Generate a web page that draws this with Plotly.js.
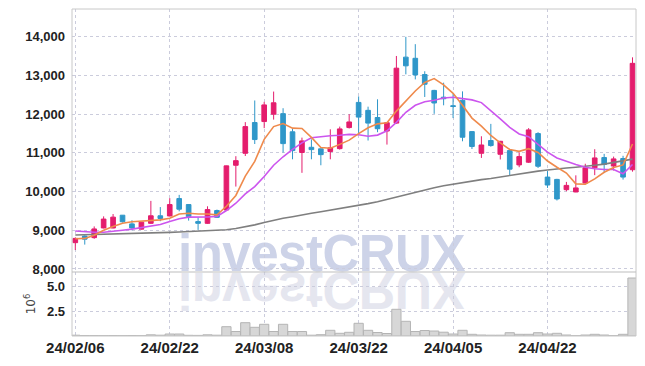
<!DOCTYPE html>
<html><head><meta charset="utf-8">
<script src="https://cdn.plot.ly/plotly-3.0.1.min.js"></script>
<style>
html,body{margin:0;padding:0;background:#fff;}
#wrap{position:relative;width:645px;height:366px;overflow:hidden;background:#fff;}
.wm{position:absolute;left:178px;top:229px;font-family:'Liberation Sans',Arial,sans-serif;font-weight:bold;font-size:51px;line-height:50px;white-space:nowrap;letter-spacing:-0.5px;}
#wm1{color:#cdd3e8;}
#wm2{color:#e5e6ef;transform-origin:0 43px;transform:scaleY(-1);}
#chart{position:absolute;left:0;top:0;width:645px;height:366px;}
</style></head>
<body><div id="wrap"><div class="wm" id="wm1">investCRUX</div><div class="wm" id="wm2">investCRUX</div><div id="chart"></div></div>
<script>
const dates = ['24/02/06','24/02/07','24/02/08','24/02/13','24/02/14','24/02/15','24/02/16','24/02/19','24/02/20','24/02/21',
'24/02/22','24/02/23','24/02/26','24/02/27','24/02/28','24/02/29','24/03/04','24/03/05','24/03/06','24/03/07',
'24/03/08','24/03/11','24/03/12','24/03/13','24/03/14','24/03/15','24/03/18','24/03/19','24/03/20','24/03/21',
'24/03/22','24/03/25','24/03/26','24/03/27','24/03/28','24/03/29','24/04/01','24/04/02','24/04/03','24/04/04',
'24/04/05','24/04/08','24/04/09','24/04/11','24/04/12','24/04/15','24/04/16','24/04/17','24/04/18','24/04/19',
'24/04/22','24/04/23','24/04/24','24/04/25','24/04/26','24/04/29','24/04/30','24/05/02','24/05/03','24/05/07'];
const open  = [8680,8850,8810,9060,9060,9390,9165,9030,9180,9375, 9370,9820,9665,9225,9180,9510,9525,10680,10990,11785,
11810,12000,12015,11545,11010,11145,11105,11035,11110,11655, 12305,12100,11915,11565,11770,13475,13445,13025,12615,12440,
12220,12360,11550,10990,11320,10965,11060,10690,10760,11500, 10375,10315,10050,9990,10220,10615,10880,10660,10855,10565];
const high  = [8810,8870,9100,9360,9420,9395,9260,9215,9760,9600, 9830,9915,9670,9335,9620,9535,10670,10915,11795,12355,
12320,12585,12155,11630,11395,11350,11110,11610,11680,12000, 12460,12195,12385,11790,13505,14000,13810,13110,12630,12815,
12520,12590,11560,11430,11750,11310,11070,11015,11640,11535, 10530,10330,10250,10420,10720,11095,10975,10905,10925,13470];
const low   = [8490,8630,8780,9050,9050,9200,9000,9020,9170,9235, 9360,9490,9250,9010,9165,9320,9510,10130,10920,11230,
11640,11860,11010,10835,10485,10835,10680,10835,11085,11630, 11495,11320,11535,11215,11750,13030,12900,12445,12010,12230,
11900,11300,11100,10870,11160,10830,10430,10630,10740,10610, 10095,9770,10010,9985,10205,10425,10480,10545,10310,10515];
const close = [8790,8770,9035,9290,9340,9220,9060,9210,9375,9305, 9665,9545,9355,9180,9535,9335,10665,10800,11680,11345,
12240,12295,11240,11060,11310,11085,10955,11130,11620,11800, 11925,11770,11625,11780,13190,13250,13015,12775,12290,12400,
12200,11405,11165,11205,11190,11300,10580,10905,11595,10655, 10170,9810,10160,10095,10615,10870,10700,10845,10375,13315];
const volume = [0.08,0.05,0.05,0.04,0.05,0.04,0.05,0.04,0.12,0.08, 0.2,0.2,0.07,0.06,0.12,0.08,0.93,0.45,1.33,0.87,
1.17,0.45,1.17,0.45,0.45,0.08,0.13,0.57,0.27,0.37, 1.27,0.57,0.35,0.25,2.67,1.47,0.45,0.55,0.5,0.38,
0.2,0.57,0.17,0.1,0.08,0.08,0.33,0.17,0.17,0.33, 0.2,0.27,0.1,0.03,0.1,0.17,0.1,0.04,0.17,5.8];
const ma5 = [8780,8790,8870,9000,9100,9180,9220,9240,9250,9270, 9310,9420,9440,9420,9420,9400,9620,9900,10400,10780,
11350,11680,11760,11640,11630,11400,11140,11120,11220,11330, 11500,11650,11750,11780,12080,12350,12600,12820,12920,12760,
12540,12230,11900,11690,11450,11260,11090,11040,11110,11010, 10790,10630,10480,10200,10190,10330,10500,10620,10690,11230];
const ma10 = [8980,8960,8950,8950,8970,9000,9030,9070,9110,9150, 9230,9300,9340,9335,9345,9360,9510,9700,9940,10130,
10390,10680,10900,11090,11260,11390,11420,11445,11455,11480, 11470,11430,11460,11570,11790,12050,12230,12320,12360,12420,
12440,12410,12370,12300,12100,11880,11660,11490,11420,11230, 11020,10870,10780,10700,10630,10590,10570,10570,10460,10700];
const ma60 = [8880,8885,8890,8895,8900,8905,8910,8915,8925,8935, 8945,8955,8965,8975,8985,8995,9015,9045,9090,9140,
9200,9260,9310,9350,9400,9440,9480,9520,9560,9600, 9640,9690,9740,9800,9860,9930,9990,10050,10100,10150,
10190,10240,10280,10310,10340,10380,10420,10460,10500,10530, 10560,10590,10610,10630,10650,10680,10710,10750,10790,10840];
const tickDates = ['24/02/06','24/02/22','24/03/08','24/03/22','24/04/05','24/04/22'];
const priceTicks = [8000,9000,10000,11000,12000,13000,14000];
const volTicks = [2.5,5.0];
const volTickText = ['2.5','5.0'];

const UP='#e41d6d', DOWN='#2f97c9';
const fam = "'Liberation Sans',sans-serif";
const xFont = {family:fam, size:15, color:'#222', weight:700};
const yFont = {family:fam, size:13, color:'#222', weight:700};
const gridC = '#cbccdc';
const volTop = 64/327;

const traces = [
 {type:'bar', x:dates, y:volume, xaxis:'x', yaxis:'y2', marker:{color:'#d7d7d7', line:{color:'#b4b4b4', width:1}}, hoverinfo:'skip'},
 {type:'candlestick', x:dates, open:open, high:high, low:low, close:close, xaxis:'x', yaxis:'y',
  increasing:{line:{color:UP,width:1}, fillcolor:UP}, decreasing:{line:{color:DOWN,width:1}, fillcolor:DOWN}, hoverinfo:'skip'},
 {type:'scatter', mode:'lines', x:dates, y:ma60, line:{color:'#7f7f7f', width:1.6}, hoverinfo:'skip'},
 {type:'scatter', mode:'lines', x:dates, y:ma10, line:{color:'#cc55ee', width:1.6}, hoverinfo:'skip'},
 {type:'scatter', mode:'lines', x:dates, y:ma5, line:{color:'#ef8a4c', width:1.6}, hoverinfo:'skip'}
];
const layout = {
 width:645, height:366, margin:{l:72,r:9,t:9,b:30},
 paper_bgcolor:'rgba(0,0,0,0)', plot_bgcolor:'rgba(0,0,0,0)',
 showlegend:false, bargap:0.02,
 xaxis:{type:'category', range:[-0.35,59.37], rangeslider:{visible:false}, anchor:'y2',
   tickmode:'array', tickvals:tickDates, ticktext:tickDates, showgrid:true, gridcolor:gridC, griddash:'dot', gridwidth:1,
   ticks:'', zeroline:false, showline:false, tickfont:xFont, ticklabelstandoff:1},
 yaxis:{domain:[volTop,1], range:[7922,14719], tickmode:'array', tickvals:priceTicks, tickformat:',d',
   showgrid:true, gridcolor:gridC, griddash:'dot', gridwidth:1, zeroline:false, showline:false, ticks:'', tickfont:yFont, ticklabelstandoff:6},
 yaxis2:{domain:[0,volTop], range:[0,6.4], tickmode:'array', tickvals:volTicks, ticktext:volTickText,
   showgrid:true, gridcolor:gridC, griddash:'dot', gridwidth:1, zeroline:false, showline:false, ticks:'', tickfont:yFont, ticklabelstandoff:6,
   title:{text:'10<sup>6</sup>', font:{family:'DejaVu Sans', size:12, color:'#444'}, standoff:8}},
 shapes:[
  {type:'rect', xref:'paper', yref:'paper', x0:0, x1:1, y0:0, y1:1, line:{color:'#c8c8c8', width:1}},
  {type:'line', xref:'paper', yref:'paper', x0:0, x1:1, y0:volTop, y1:volTop, line:{color:'#bdbdbd', width:1}}
 ]
};
Plotly.newPlot('chart', traces, layout, {staticPlot:true, displayModeBar:false});
</script>
</body></html>
